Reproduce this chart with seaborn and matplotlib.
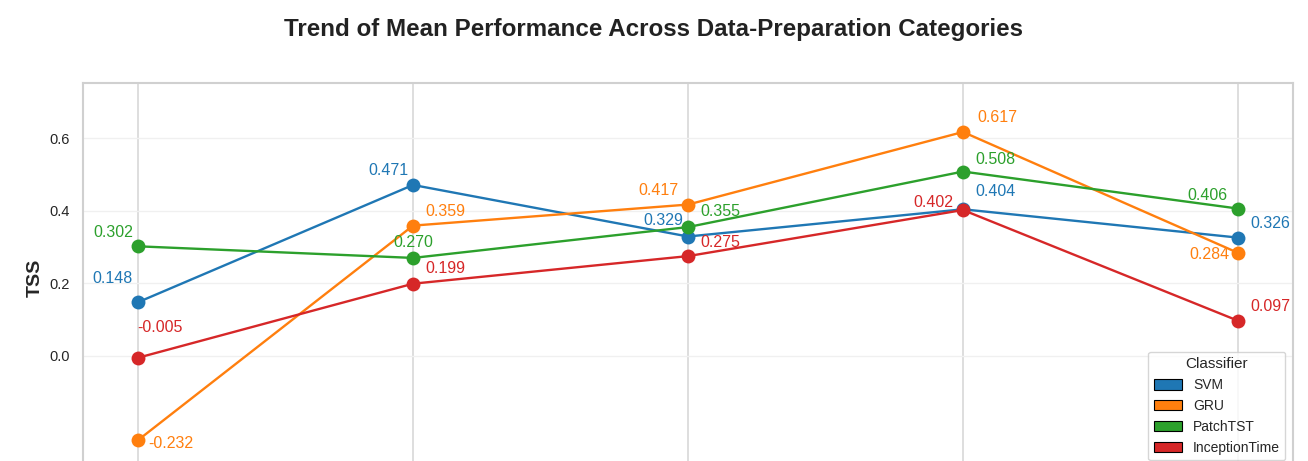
import numpy as np
import pandas as pd
import matplotlib
matplotlib.use("Agg")
import matplotlib.pyplot as plt
import seaborn as sns
from matplotlib.patches import Patch

categories = ["Prep 1", "Prep 2", "Prep 3", "Prep 4", "Prep 5"]
classifiers = ["SVM", "GRU", "PatchTST", "InceptionTime"]
svm = [0.148, 0.471, 0.329, 0.404, 0.326]
gru = [-0.232, 0.359, 0.417, 0.617, 0.284]
patchtst = [0.302, 0.270, 0.355, 0.508, 0.406]
inception = [-0.005, 0.199, 0.275, 0.402, 0.097]
yticks = [0.0, 0.2, 0.4, 0.6]

# label offsets in pixels (dx, dy) and horizontal alignment
offsets = {
    "SVM": [(-5, 24, "right"), (-5, 14, "right"), (-5, 16, "right"), (12, 18, "left"), (12, 14, "left")],
    "GRU": [(10, -3, "left"), (12, 14, "left"), (-10, 14, "right"), (14, 14, "left"), (-8, -2, "right")],
    "PatchTST": [(-5, 14, "right"), (0, 15, "center"), (12, 16, "left"), (12, 12, "left"), (-10, 13, "right")],
    "InceptionTime": [(22, 30, "center"), (12, 15, "left"), (12, 14, "left"), (-10, 8, "right"), (12, 14, "left")],
}

series = {"SVM": svm, "GRU": gru, "PatchTST": patchtst, "InceptionTime": inception}
rows = []
for name, vals in series.items():
    for i, v in enumerate(vals):
        rows.append({"Category": i, "Classifier": name, "TSS": v})
df = pd.DataFrame(rows)

sns.set_theme(style="whitegrid")
plt.rcParams["font.family"] = ["Liberation Sans", "DejaVu Sans"]
palette = sns.color_palette("tab10", 4)

fig = plt.figure(figsize=(13.08, 4.61), dpi=100)
ax = fig.add_axes([0.0635, -0.024, 0.925, 0.844])

sns.lineplot(data=df, x="Category", y="TSS", hue="Classifier", hue_order=classifiers,
             palette=palette, marker="o", markersize=10, markeredgewidth=0,
             linewidth=1.7, ax=ax, legend=False)

for ci, name in enumerate(classifiers):
    vals = series[name]
    for i, v in enumerate(vals):
        dx, dy, ha = offsets[name][i]
        ax.annotate(f"{v:.3f}", (i, v), xytext=(dx, dy), textcoords="offset pixels",
                    ha=ha, va="center", color=palette[ci], fontsize=11.5)

ax.set_xlim(-0.2, 4.2)
ax.set_ylim(-0.32, 0.752)
ax.set_yticks(yticks)
ax.set_yticklabels([f"{t:.1f}" for t in yticks], fontsize=10.5)
ax.set_xticks(range(len(categories)))
ax.set_xticklabels(categories)
ax.tick_params(axis="x", labelbottom=False)
ax.set_xlabel("")
ax.set_ylabel("TSS", fontsize=14, fontweight="bold", labelpad=4)
ax.grid(axis="y", color="#f0f0f0", linewidth=1)
ax.grid(axis="x", color="#d8d8d8", linewidth=1.2)
for s in ax.spines.values():
    s.set_color("#d0d0d0")
    s.set_linewidth(1.5)

fig.suptitle("Trend of Mean Performance Across Data-Preparation Categories",
             fontsize=17.4, fontweight="bold", y=0.962, color="#222222")

handles = [Patch(facecolor=palette[i], edgecolor="black", linewidth=0.8, label=c)
           for i, c in enumerate(classifiers)]
ax.legend(handles=handles, title="Classifier", loc="lower right",
          bbox_to_anchor=(0.9995, 0.012), fontsize=10, title_fontsize=11,
          frameon=True, handlelength=2.0, handleheight=0.8)

fig.savefig("out.png", dpi=100)
